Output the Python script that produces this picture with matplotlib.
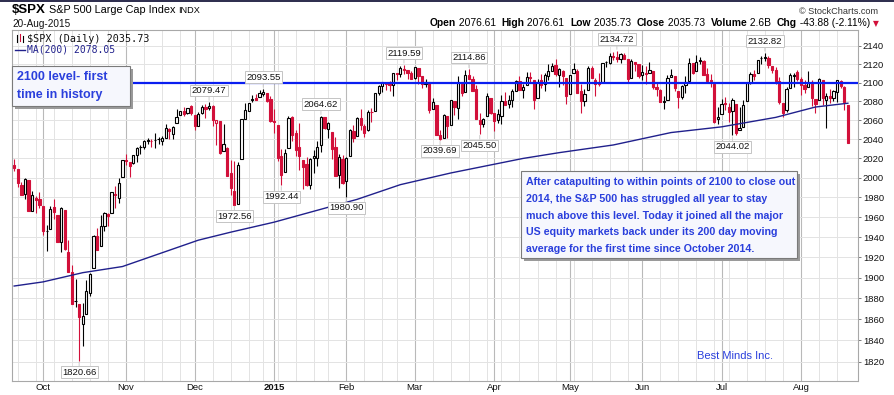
import matplotlib
matplotlib.use("Agg")
import matplotlib.pyplot as plt
from matplotlib.patches import Rectangle
from matplotlib.lines import Line2D
from matplotlib.ticker import FixedLocator, NullLocator, FixedFormatter
from matplotlib.offsetbox import TextArea, HPacker, AnchoredOffsetbox
import numpy as np
import pandas as pd

# ---- data ----
holidays = ["2014-11-27", "2014-12-25", "2015-01-01", "2015-01-19",
            "2015-02-16", "2015-04-03", "2015-05-25", "2015-07-03"]
dates = pd.bdate_range("2014-09-19", "2015-08-20")
dates = dates[~dates.isin(pd.to_datetime(holidays))]

opens = [
    2012.74, 2009.08, 1992.78, 1983.34, 1997.32, 1966.22, 1978.96, 1978.21,
    1971.44, 1945.83, 1948.12, 1970.01, 1962.36, 1935.55, 1967.68, 1925.63, 1905.65, 1877.11, 1874.18, 1855.95,
    1864.91, 1885.62, 1909.38, 1941.29, 1931.02, 1951.59, 1962.97, 1964.14, 1983.29, 1979.49, 2001.20,
    2018.21, 2015.81, 2015.29, 2023.33, 2032.36, 2032.01, 2038.20, 2037.75, 2039.21, 2039.74, 2038.29, 2041.48,
    2051.16, 2045.87, 2057.46, 2065.07, 2070.15, 2067.36, 2074.78,
    2065.78, 2053.77, 2067.45, 2073.64, 2072.78, 2074.84, 2056.55, 2058.86, 2027.92, 2030.36, 2005.03, 1986.71,
    1973.77, 2018.98, 2061.04, 2069.28, 2081.48, 2083.25, 2084.30, 2087.63, 2088.49, 2082.11,
    2058.90, 2054.44, 2022.15, 2005.55, 2030.61, 2063.45, 2046.13, 2031.58, 2018.40, 2013.75, 1992.25, 2020.76,
    2020.19, 2034.30, 2062.98, 2050.42, 2047.86, 2032.34, 2002.45, 2019.35,
    1996.67, 2022.71, 2048.86, 2043.45, 2062.28, 2053.47, 2049.38, 2068.55, 2069.98, 2088.78, 2096.47, 2099.16,
    2099.25, 2097.65, 2109.83, 2109.10, 2115.30, 2113.91, 2110.88,
    2105.23, 2115.76, 2107.72, 2098.54, 2100.91, 2072.25, 2076.14, 2044.69, 2041.10, 2064.56, 2055.35, 2080.59,
    2072.84, 2098.69, 2090.32, 2107.99, 2103.94, 2093.10, 2059.94, 2055.78, 2064.11, 2084.05,
    2067.63, 2060.03, 2064.87, 2080.79, 2076.94, 2081.29, 2091.51, 2102.03, 2092.28, 2097.82, 2105.96, 2102.58,
    2084.11, 2102.82, 2098.27, 2107.21, 2112.80, 2119.29, 2108.35, 2112.49, 2105.52,
    2087.38, 2110.23, 2112.63, 2091.26, 2079.96, 2092.13, 2115.56, 2102.87, 2099.62, 2100.43, 2122.07, 2121.30,
    2129.45, 2127.79, 2125.55, 2130.36, 2125.34, 2105.13, 2122.27, 2120.66,
    2108.64, 2110.41, 2110.64, 2112.35, 2095.09, 2092.34, 2079.07, 2081.12, 2106.24, 2107.43, 2091.34, 2084.26,
    2097.40, 2101.58, 2121.06, 2112.50, 2123.16, 2123.65, 2109.96, 2102.62, 2098.63, 2061.19,
    2067.00, 2078.03, 2073.95, 2069.52, 2077.66, 2049.73, 2052.74, 2080.03, 2099.72, 2109.01, 2110.55, 2126.80,
    2126.85, 2127.19, 2118.21, 2114.16, 2102.24, 2078.19, 2070.75, 2094.70, 2106.78, 2111.60,
    2104.49, 2097.68, 2095.27, 2100.75, 2082.61, 2080.98, 2102.66, 2081.10, 2086.19, 2083.15, 2089.70, 2101.99,
    2095.69, 2076.61,
]
highs = [
    2019.26, 2009.08, 1995.41, 1999.79, 1997.32, 1986.37, 1981.28, 1985.17,
    1971.44, 1952.32, 1971.19, 1977.94, 1962.36, 1970.36, 1967.68, 1936.98, 1912.09, 1898.71, 1874.18, 1876.01,
    1898.16, 1905.03, 1942.45, 1949.31, 1961.95, 1965.27, 1964.64, 1985.05, 1991.40, 1999.40, 2018.19,
    2024.46, 2015.98, 2023.77, 2031.61, 2034.26, 2038.70, 2041.28, 2040.33, 2046.18, 2042.22, 2043.07, 2056.08,
    2052.14, 2053.84, 2071.46, 2070.17, 2074.21, 2073.29, 2075.76,
    2065.78, 2068.77, 2076.28, 2077.34, 2079.47, 2075.78, 2060.60, 2058.86, 2055.53, 2032.25, 2018.69, 2016.89,
    2016.75, 2061.23, 2077.85, 2078.76, 2086.73, 2087.56, 2092.70, 2093.55, 2088.49, 2085.58,
    2072.36, 2054.44, 2030.25, 2029.61, 2064.08, 2064.43, 2049.30, 2056.93, 2018.40, 2021.35, 2020.46, 2028.94,
    2038.29, 2064.62, 2062.98, 2057.62, 2047.86, 2042.49, 2024.64, 2023.32,
    2021.66, 2050.30, 2054.74, 2063.55, 2072.40, 2056.16, 2070.86, 2073.48, 2088.53, 2097.03, 2101.30, 2100.23,
    2102.13, 2110.61, 2110.05, 2117.94, 2119.59, 2113.91, 2112.74,
    2117.52, 2115.76, 2107.72, 2104.25, 2100.91, 2083.49, 2076.14, 2050.08, 2066.41, 2064.56, 2081.41, 2080.59,
    2106.85, 2098.69, 2113.92, 2114.86, 2107.63, 2097.43, 2067.15, 2062.83, 2088.97, 2084.05,
    2067.63, 2072.17, 2086.99, 2089.81, 2086.69, 2093.31, 2102.61, 2107.65, 2098.62, 2111.91, 2111.30, 2102.58,
    2103.94, 2109.64, 2109.98, 2120.49, 2120.92, 2125.92, 2116.04, 2113.65, 2105.52,
    2108.41, 2120.95, 2115.24, 2098.42, 2092.90, 2117.66, 2117.69, 2105.06, 2110.19, 2121.45, 2123.89, 2131.78,
    2133.02, 2134.72, 2131.78, 2132.15, 2125.34, 2126.22, 2122.27, 2120.66,
    2119.15, 2117.59, 2121.92, 2112.89, 2100.99, 2093.01, 2085.62, 2108.50, 2115.02, 2107.43, 2091.34, 2097.40,
    2106.79, 2126.65, 2121.64, 2129.87, 2128.03, 2125.10, 2116.04, 2108.92, 2098.63, 2074.28,
    2082.78, 2085.06, 2078.61, 2083.74, 2077.66, 2074.28, 2081.31, 2100.67, 2111.98, 2114.14, 2124.42, 2128.91,
    2132.82, 2128.48, 2118.51, 2116.87, 2106.01, 2078.19, 2095.60, 2110.60, 2110.48, 2114.24,
    2105.70, 2102.51, 2112.66, 2103.32, 2082.61, 2105.35, 2102.66, 2089.06, 2092.93, 2092.45, 2102.87, 2103.47,
    2096.17, 2076.61,
]
lows = [
    2006.59, 1991.01, 1982.77, 1978.63, 1965.99, 1966.22, 1964.04, 1968.96,
    1941.72, 1926.03, 1948.12, 1958.43, 1934.87, 1925.25, 1927.56, 1906.05, 1874.14, 1871.79, 1820.66, 1835.02,
    1864.91, 1882.30, 1909.38, 1926.83, 1931.02, 1946.27, 1951.37, 1964.14, 1969.04, 1974.75, 2001.20,
    2013.68, 2001.01, 2014.42, 2015.86, 2025.07, 2030.17, 2035.28, 2031.95, 2030.44, 2035.20, 2034.46, 2041.48,
    2040.37, 2040.49, 2056.75, 2065.07, 2064.75, 2066.62, 2065.06,
    2049.57, 2053.77, 2066.65, 2062.34, 2070.81, 2054.27, 2034.17, 2024.26, 2027.92, 2002.33, 1982.26, 1972.56,
    1973.77, 2018.98, 2061.03, 2069.28, 2079.77, 2081.86, 2084.30, 2085.75, 2079.53, 2057.94,
    2046.04, 2017.34, 1992.44, 2005.55, 2030.61, 2038.33, 2022.58, 2008.25, 1988.44, 1991.47, 1988.12, 2004.49,
    2012.04, 2026.38, 2050.54, 2040.97, 2019.91, 2001.49, 1989.18, 1993.38,
    1980.90, 2022.71, 2036.72, 2043.45, 2049.97, 2041.88, 2048.62, 2057.99, 2069.98, 2086.70, 2089.80, 2092.15,
    2090.79, 2085.44, 2103.00, 2105.87, 2109.89, 2103.76, 2103.75,
    2104.50, 2098.26, 2094.49, 2095.22, 2067.27, 2072.21, 2044.16, 2039.69, 2041.10, 2041.17, 2055.35, 2065.08,
    2061.23, 2085.56, 2090.32, 2104.42, 2091.50, 2061.05, 2045.50, 2052.96, 2064.11, 2067.04,
    2048.38, 2057.32, 2056.52, 2076.10, 2073.30, 2074.29, 2091.51, 2092.33, 2083.24, 2097.82, 2100.02, 2072.37,
    2084.11, 2094.38, 2091.05, 2103.19, 2112.80, 2107.04, 2094.89, 2097.41, 2077.59,
    2087.38, 2110.23, 2088.46, 2067.93, 2074.99, 2092.13, 2104.58, 2085.57, 2096.04, 2100.43, 2116.81, 2120.01,
    2124.50, 2122.59, 2120.92, 2126.06, 2099.18, 2105.13, 2112.86, 2104.89,
    2102.54, 2099.14, 2110.64, 2093.23, 2085.67, 2079.11, 2072.14, 2081.12, 2106.24, 2091.33, 2072.49, 2082.10,
    2088.86, 2101.58, 2109.45, 2112.50, 2119.89, 2108.58, 2101.78, 2095.38, 2056.64, 2056.32,
    2067.00, 2071.02, 2058.40, 2044.02, 2044.66, 2049.73, 2052.74, 2080.03, 2098.18, 2102.49, 2110.55, 2119.88,
    2123.66, 2115.40, 2110.00, 2098.63, 2077.09, 2063.52, 2069.09, 2094.08, 2094.97, 2102.07,
    2087.31, 2088.60, 2095.27, 2075.53, 2067.91, 2080.98, 2076.49, 2052.09, 2078.26, 2080.61, 2079.30, 2094.14,
    2070.53, 2035.73,
]
closes = [
    2010.40, 1994.29, 1982.77, 1998.30, 1965.99, 1982.85, 1977.80, 1972.29,
    1946.16, 1946.17, 1967.90, 1964.82, 1935.10, 1968.89, 1928.21, 1906.13, 1874.74, 1877.70, 1862.49, 1862.76,
    1886.76, 1904.01, 1941.28, 1927.11, 1950.82, 1964.58, 1961.63, 1985.05, 1982.30, 1994.65, 2018.05,
    2017.81, 2012.10, 2023.57, 2031.21, 2031.92, 2038.26, 2039.68, 2038.25, 2039.33, 2039.82, 2041.32, 2051.80,
    2048.72, 2052.75, 2063.50, 2069.41, 2067.03, 2072.83, 2067.56,
    2053.44, 2066.55, 2074.33, 2071.92, 2075.37, 2060.31, 2059.82, 2026.14, 2035.33, 2002.33, 1989.63, 1972.74,
    2012.89, 2061.23, 2070.65, 2078.54, 2082.17, 2081.88, 2088.77, 2090.57, 2080.35, 2058.90,
    2058.20, 2020.58, 2002.61, 2025.90, 2062.14, 2044.81, 2028.26, 2023.03, 2011.27, 1992.67, 2019.42, 2022.55,
    2032.12, 2063.15, 2051.82, 2057.09, 2029.55, 2002.16, 2021.25, 1994.99,
    2020.85, 2050.03, 2041.51, 2062.52, 2055.47, 2046.74, 2068.59, 2068.53, 2088.48, 2096.99, 2100.34, 2099.68,
    2097.45, 2110.30, 2109.66, 2115.48, 2113.86, 2110.74, 2104.50,
    2117.39, 2107.78, 2098.53, 2101.04, 2071.26, 2079.43, 2044.16, 2040.24, 2065.95, 2053.40, 2081.19, 2074.28,
    2099.50, 2089.27, 2108.10, 2104.42, 2091.50, 2061.05, 2056.15, 2061.02, 2086.24, 2067.89,
    2059.69, 2066.96, 2080.62, 2076.33, 2081.90, 2091.18, 2102.06, 2092.43, 2095.84, 2106.63, 2104.99, 2081.18,
    2100.40, 2097.29, 2107.96, 2112.93, 2117.69, 2108.92, 2114.76, 2106.85, 2085.51,
    2108.29, 2114.49, 2089.46, 2080.15, 2088.00, 2116.10, 2105.33, 2099.12, 2098.48, 2121.10, 2122.73, 2129.20,
    2127.83, 2125.85, 2130.82, 2126.06, 2104.20, 2123.48, 2120.79, 2107.39,
    2111.73, 2109.60, 2114.07, 2095.84, 2092.83, 2079.28, 2080.15, 2105.20, 2108.86, 2094.11, 2084.43, 2096.29,
    2100.44, 2121.24, 2109.99, 2122.85, 2124.20, 2108.58, 2102.31, 2101.49, 2057.64, 2063.11,
    2077.42, 2076.78, 2068.76, 2081.34, 2046.68, 2051.31, 2076.62, 2099.60, 2108.95, 2107.40, 2124.29, 2126.64,
    2128.28, 2119.21, 2114.15, 2102.15, 2079.65, 2067.64, 2093.25, 2108.57, 2108.63, 2103.84,
    2098.04, 2093.32, 2099.84, 2083.56, 2077.57, 2104.18, 2084.07, 2086.05, 2083.39, 2091.54, 2102.44, 2096.92,
    2079.61, 2035.73,
]

# 200-day moving average at a few dates
ma_dates = ["2014-09-19", "2014-10-01", "2014-10-16", "2014-10-31", "2014-12-02", "2014-12-15",
            "2015-01-02", "2015-01-26", "2015-02-05", "2015-02-24", "2015-03-16", "2015-04-14",
            "2015-04-28", "2015-05-19", "2015-06-11", "2015-07-01", "2015-07-23", "2015-08-07",
            "2015-08-20"]
ma_values = [1892, 1896, 1905, 1911, 1937, 1945, 1955, 1970, 1978, 1993, 2005, 2020,
             2026, 2034, 2047, 2053, 2063, 2074, 2078.05]

level_line = 2100

# swing highs / lows that carry a value tag
tag_dates = ["2014-10-15", "2014-12-05", "2014-12-16", "2014-12-29", "2015-01-06", "2015-01-22",
             "2015-02-02", "2015-02-25", "2015-03-11", "2015-03-23", "2015-03-26", "2015-05-20",
             "2015-07-07", "2015-07-20"]
tag_sides = ["low", "high", "low", "high", "low", "high", "low", "high", "low", "high", "low",
             "high", "low", "high"]

yticks = list(range(1820, 2141, 20))
month_names = ["Oct", "Nov", "Dec", "2015", "Feb", "Mar", "Apr", "May", "Jun", "Jul", "Aug"]

note_small = ["2100 level- first", "time in history"]
note_big = ["After catapulting to within points of 2100 to close out",
            "2014, the S&P 500 has struggled all year to stay",
            "much above this level. Today it joined all the major",
            "US equity markets back under its 200 day moving",
            "average for the first time since October 2014."]

# ---- figure ----
W, H = 894, 395
def fx(px): return px / W
def fy(py): return 1 - py / H

RED = "#d2103a"
BLUE_TXT = "#2a3fdc"
SANS = ["Liberation Sans", "DejaVu Sans"]

fig = plt.figure(figsize=(W / 100, H / 100), dpi=100)
fig.patch.set_facecolor("white")
ax = fig.add_axes([fx(12), fy(381), fx(858) - fx(12), fy(30) - fy(381)])

o = np.array(opens); h = np.array(highs); l = np.array(lows); c = np.array(closes)
n = len(c)
x = np.arange(n)
prev = np.r_[o[0], c[:-1]]
edge = np.where(c < prev, RED, "black")
fill = np.where(c > o, "white", edge)

# grid: weekly light lines, darker at month starts
wd = dates.weekday
week_starts = [i for i in range(1, n) if wd[i] < wd[i - 1]]
month_starts = [i for i in range(1, n) if dates[i].month != dates[i - 1].month]
for i in week_starts:
    if i not in month_starts:
        ax.axvline(i, color="#e3e3e3", lw=0.7, zorder=0)
for i in month_starts:
    ax.axvline(i, color="#b9b9b9", lw=0.8, zorder=0)
for t in yticks:
    ax.axhline(t, color="#e3e3e3", lw=0.7, zorder=0)

# candles
ax.vlines(x, l, h, colors=edge, lw=0.8, zorder=2)
body_lo = np.minimum(o, c)
body_h = np.maximum(np.abs(c - o), 0.35)
ax.bar(x, body_h, bottom=body_lo, width=0.62, color=fill, edgecolor=edge, linewidth=0.8, zorder=3)

# 200-day MA
ma_idx = [dates.get_loc(pd.Timestamp(d)) for d in ma_dates]
ax.plot(ma_idx, ma_values, color="#20208c", lw=1.0, zorder=4)

# 2100 level
ax.axhline(level_line, color="#0a1ef0", lw=1.6, zorder=5)

# value tags
for d, side in zip(tag_dates, tag_sides):
    i = dates.get_loc(pd.Timestamp(d))
    val = h[i] if side == "high" else l[i]
    dy = 5 if side == "high" else -5
    ax.annotate(f"{val:.2f}", xy=(i, val), xytext=(0, dy), textcoords="offset points",
                ha="center", va="bottom" if side == "high" else "top",
                fontsize=6.8, family=SANS, color="#111111", zorder=6,
                bbox=dict(boxstyle="square,pad=0.15", fc="white", ec="#c4c4c4", lw=0.7),
                arrowprops=dict(arrowstyle="-", color="#c4c4c4", lw=0.6, shrinkA=0, shrinkB=1))

ax.set_xlim(-0.6, 233.8)
ax.set_yscale("log")
ax.set_ylim(1802.0, 2157.6)
ax.yaxis.set_major_locator(FixedLocator(yticks))
ax.yaxis.set_major_formatter(FixedFormatter([str(t) for t in yticks]))
ax.yaxis.set_minor_locator(NullLocator())
ax.yaxis.tick_right()
ax.tick_params(axis="y", length=2.0, width=0.6, colors="#666666", labelcolor="#111111",
               labelsize=6.8, pad=1.5)
for lab in ax.get_yticklabels():
    lab.set_family(SANS)

ax.xaxis.set_major_locator(FixedLocator(month_starts))
ax.xaxis.set_major_formatter(FixedFormatter(month_names))
ax.xaxis.set_minor_locator(NullLocator())
ax.tick_params(axis="x", length=0, labelsize=6.8, labelcolor="#111111", pad=1.5)
for lab in ax.get_xticklabels():
    lab.set_family(SANS)
    if lab.get_text() == "2015":
        lab.set_fontweight("bold")

for s in ax.spines.values():
    s.set_color("#a8a8a8")
    s.set_linewidth(0.8)
ax.spines["bottom"].set_linestyle((0, (1, 1)))

# legend rows inside the plot
fig.add_artist(Line2D([fx(17), fx(17)], [fy(35), fy(42)], color="black", lw=0.8))
fig.add_artist(Line2D([fx(20), fx(20)], [fy(34), fy(41)], color=RED, lw=0.8))
fig.add_artist(Line2D([fx(23), fx(23)], [fy(36), fy(42)], color="black", lw=0.8))
fig.text(fx(27), fy(38.5), r"\$SPX (Daily) 2035.73", fontsize=7.3, family="DejaVu Sans Mono",
         va="center", color="#111111")
fig.add_artist(Line2D([fx(15), fx(25)], [fy(49.5), fy(49.5)], color="#20208c", lw=1.0))
fig.text(fx(27), fy(49.5), "MA(200) 2078.05", fontsize=7.0, family="DejaVu Sans Mono",
         va="center", color="#20208c")

# header
fig.add_artist(Rectangle((0, fy(2)), 1, fy(0) - fy(2), transform=fig.transFigure,
                         color="#303050", lw=0))
title = HPacker(children=[
    TextArea(r"\$SPX", textprops=dict(fontsize=9.5, fontweight="bold", family=SANS)),
    TextArea(" S&P 500 Large Cap Index ", textprops=dict(fontsize=7.8, family=SANS)),
    TextArea("INDX", textprops=dict(fontsize=6.6, family=SANS)),
], align="baseline", pad=0, sep=0)
fig.add_artist(AnchoredOffsetbox(loc="lower left", child=title, frameon=False, pad=0, borderpad=0,
                                 bbox_to_anchor=(fx(12), fy(16)), bbox_transform=fig.transFigure))
fig.text(fx(12), fy(24), "20-Aug-2015", fontsize=7.2, family=SANS, va="center", color="#111111")
fig.text(fx(878), fy(11), "\u00a9 StockCharts.com", fontsize=6.6, family=SANS, ha="right",
         va="center", color="#333333")

head_parts = [("Open", True), (" 2076.61  ", False), ("High", True), (" 2076.61  ", False),
              ("Low", True), (" 2035.73  ", False), ("Close", True), (" 2035.73  ", False),
              ("Volume", True), (" 2.6B  ", False), ("Chg", True), (" -43.88 (-2.11%) ", False)]
areas = [TextArea(s, textprops=dict(fontsize=7.4, family=SANS, fontweight="bold" if b else "normal"))
         for s, b in head_parts]
areas.append(TextArea("\u25bc", textprops=dict(fontsize=5.5, family="DejaVu Sans", color=RED)))
head = HPacker(children=areas, align="baseline", pad=0, sep=0)
fig.add_artist(AnchoredOffsetbox(loc="lower right", child=head, frameon=False, pad=0, borderpad=0,
                                 bbox_to_anchor=(fx(879), fy(28)), bbox_transform=fig.transFigure))

# note boxes
def note_box(x0, y0, x1, y1):
    fig.add_artist(Rectangle((fx(x0 + 3), fy(y1 + 3)), fx(x1) - fx(x0), fy(y0) - fy(y1),
                             transform=fig.transFigure, fc="#9a9a9a", ec="none", zorder=6))
    fig.add_artist(Rectangle((fx(x0), fy(y1)), fx(x1) - fx(x0), fy(y0) - fy(y1),
                             transform=fig.transFigure, fc="#f6f7fd", ec="#7a7a7a", lw=0.8, zorder=7))

note_box(12, 66, 130, 106)
for k, line in enumerate(note_small):
    fig.text(fx(17), fy(77 + k * 18), line, fontsize=9, fontweight="bold", family=SANS,
             color=BLUE_TXT, va="center", zorder=8)

note_box(521, 171, 797, 258)
for k, line in enumerate(note_big):
    fig.text(fx(526), fy(182 + k * 16.8), line, fontsize=7.7, fontweight="bold", family=SANS,
             color=BLUE_TXT, va="center", zorder=8)

fig.text(fx(697), fy(356), "Best Minds Inc.", fontsize=8, family=SANS, color=BLUE_TXT, va="center")

fig.savefig("out.png", dpi=100)
